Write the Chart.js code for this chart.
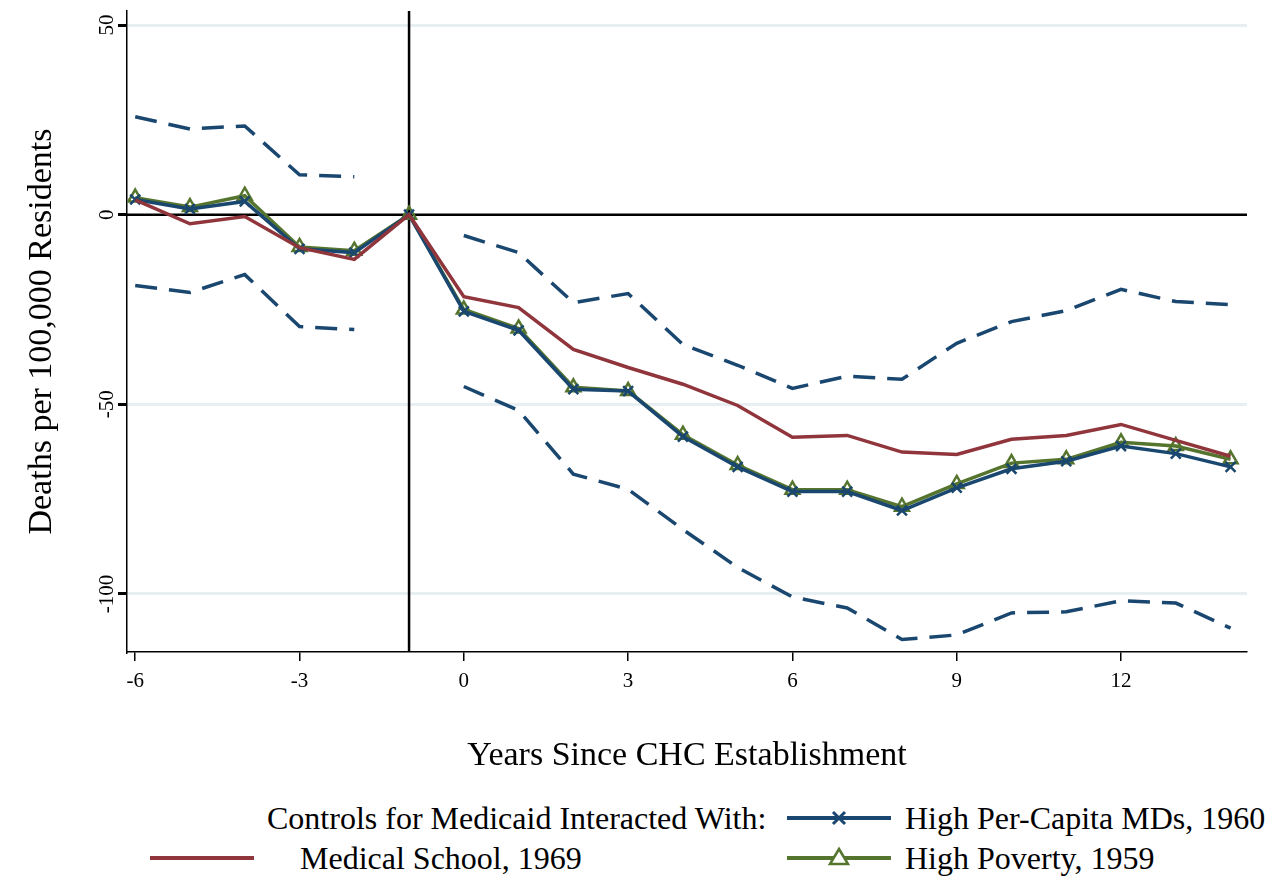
<!DOCTYPE html>
<html>
<head>
<meta charset="utf-8">
<script src="https://cdn.jsdelivr.net/npm/chart.js@4/dist/chart.umd.min.js"></script>
<style>
  body { margin: 0; width: 1268px; height: 880px; overflow: hidden; background: #fff; font-family: "Liberation Serif", serif; }
  #wrap { position: absolute; left: 0; top: 0; width: 1268px; height: 780px; }
  .lg { position: absolute; font-size: 32px; white-space: nowrap; line-height: 1; color: #000; }
  svg.lg { overflow: visible; }
</style>
</head>
<body>
<div id="wrap"><canvas id="c" width="1268" height="780"></canvas></div>

<div class="lg" style="left:267px; top:802px;">Controls for Medicaid Interacted With:</div>
<svg class="lg" style="left:787px; top:808px;" width="104" height="20">
  <line x1="0" y1="10" x2="104" y2="10" stroke="#1a476f" stroke-width="4"/>
  <path d="M46 4 L58 16 M58 4 L46 16" stroke="#1a476f" stroke-width="3"/>
</svg>
<div class="lg" style="left:905px; top:802px;">High Per-Capita MDs, 1960</div>
<svg class="lg" style="left:150px; top:848px;" width="104" height="20">
  <line x1="0" y1="10" x2="104" y2="10" stroke="#90353b" stroke-width="4"/>
</svg>
<div class="lg" style="left:300px; top:842px;">Medical School, 1969</div>
<svg class="lg" style="left:787px; top:848px;" width="104" height="20">
  <line x1="0" y1="10" x2="104" y2="10" stroke="#55752f" stroke-width="4"/>
  <path d="M52 1 L61 16 L43 16 Z" fill="#fff" stroke="#55752f" stroke-width="2.5"/>
</svg>
<div class="lg" style="left:905px; top:842px;">High Poverty, 1959</div>

<script>
const years = [-6,-5,-4,-3,-2,-1,0,1,2,3,4,5,6,7,8,9,10,11,12,13,14];
const medSchool = [3.9,-2.4,-0.5,-8.7,-11.8,0,-21.6,-24.5,-35.5,-40.3,-44.7,-50.3,-58.7,-58.2,-62.6,-63.2,-59.2,-58.2,-55.3,-59.5,-63.7];
const highMDs = [4,1.5,3.5,-9,-10,0,-25.5,-30.5,-46,-46.5,-58.5,-66.5,-73,-73,-78,-72,-67,-65,-61,-63,-66.5];
const highPoverty = [4.5,2,5,-8.5,-9.5,0,-25,-30,-45.5,-46.5,-58,-66,-72.5,-72.5,-77,-71,-65.5,-64.5,-60,-61,-64.5];
const ciUpper = [25.8,22.6,23.4,10.5,10,null,-5.5,-10,-23.2,-20.8,-34.2,-39.7,-45.8,-42.6,-43.4,-33.9,-28.2,-25.3,-19.7,-22.9,-23.7];
const ciLower = [-18.7,-20.5,-15.8,-29.5,-30.3,null,-45.3,-51.6,-68.4,-72.4,-83,-93,-100.8,-103.7,-112,-110.8,-105,-104.7,-101.8,-102.4,-109];
const xTicks = [-6,-3,0,3,6,9,12];
const yTicks = [50,0,-50,-100];

const pts = arr => years.map((x, i) => ({x: x, y: arr[i]}));
const BLUE = '#1a476f', RED = '#90353b', GREEN = '#55752f';

const refLines = {
  id: 'refLines',
  beforeDatasetsDraw(chart) {
    const {ctx, chartArea: a, scales: {x, y}} = chart;
    ctx.save();
    ctx.strokeStyle = '#000';
    ctx.lineWidth = 2.5;
    const y0 = y.getPixelForValue(0);
    ctx.beginPath(); ctx.moveTo(a.left, y0); ctx.lineTo(a.right, y0); ctx.stroke();
    const xv = x.getPixelForValue(-1);
    ctx.beginPath(); ctx.moveTo(xv, a.top); ctx.lineTo(xv, a.bottom); ctx.stroke();
    // vertical y tick labels, read bottom to top
    ctx.fillStyle = '#000';
    ctx.font = '21px "Liberation Serif"';
    ctx.textAlign = 'center';
    ctx.textBaseline = 'alphabetic';
    yTicks.forEach(v => {
      ctx.save();
      ctx.translate(a.left - 14, y.getPixelForValue(v));
      ctx.rotate(-Math.PI / 2);
      ctx.fillText(String(v), 0, 0);
      ctx.restore();
    });
    ctx.restore();
  }
};

new Chart(document.getElementById('c'), {
  type: 'line',
  data: {
    datasets: [
      {data: pts(ciUpper), borderColor: BLUE, borderWidth: 3.5, borderDash: [22, 12], pointRadius: 0, spanGaps: false},
      {data: pts(ciLower), borderColor: BLUE, borderWidth: 3.5, borderDash: [22, 12], pointRadius: 0, spanGaps: false},
      {data: pts(medSchool), borderColor: RED, borderWidth: 3.5, pointRadius: 0},
      {data: pts(highMDs), borderColor: BLUE, borderWidth: 3.5, pointStyle: 'crossRot', pointRadius: 7, pointBorderWidth: 2.5, pointBorderColor: BLUE},
      {data: pts(highPoverty), borderColor: GREEN, borderWidth: 3.5, pointStyle: 'triangle', pointRadius: 8, pointBorderWidth: 2.5, pointBorderColor: GREEN, pointBackgroundColor: 'rgba(0,0,0,0)'}
    ]
  },
  options: {
    responsive: false,
    animation: false,
    layout: {padding: {left: 0, top: 11, right: 21, bottom: 0}},
    plugins: {legend: {display: false}, tooltip: {enabled: false}},
    scales: {
      x: {
        type: 'linear', min: -6.15, max: 14.3,
        afterBuildTicks: s => { s.ticks = xTicks.map(v => ({value: v})); },
        afterFit: s => { s.height = 128; },
        border: {color: '#000', width: 1.5},
        grid: {drawOnChartArea: false, tickLength: 9, tickColor: '#000', lineWidth: 1.5},
        ticks: {color: '#000', font: {family: 'Liberation Serif', size: 21}, padding: 8, maxRotation: 0},
        title: {display: true, text: 'Years Since CHC Establishment', color: '#000', font: {family: 'Liberation Serif', size: 34}, padding: {top: 22}}
      },
      y: {
        type: 'linear', min: -115.3, max: 53.7,
        afterBuildTicks: s => { s.ticks = yTicks.map(v => ({value: v})); },
        afterFit: s => { s.width = 127; s.paddingTop = 0; s.paddingBottom = 0; },
        border: {color: '#000', width: 1.5},
        grid: {color: ctx => ctx.tick && ctx.tick.value === 0 ? 'rgba(0,0,0,0)' : '#e8eff2', lineWidth: 3, tickLength: 9, tickColor: '#000'},
        ticks: {display: false},
        title: {display: true, text: 'Deaths per 100,000 Residents', color: '#000', font: {family: 'Liberation Serif', size: 34}, padding: {top: 22, bottom: 0}}
      }
    }
  },
  plugins: [refLines]
});
</script>
</body>
</html>
